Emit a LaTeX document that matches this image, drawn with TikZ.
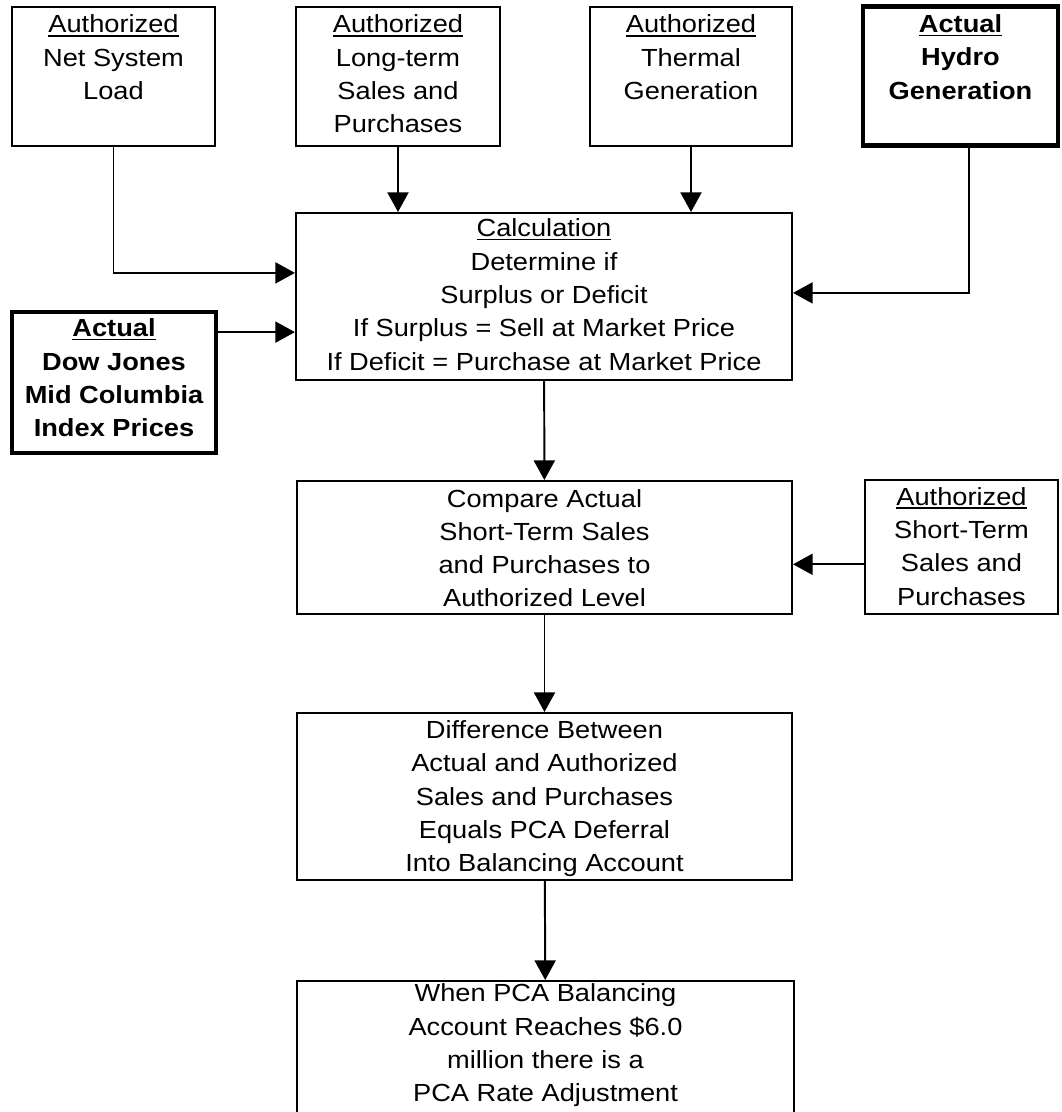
\documentclass[tikz,border=0pt]{standalone}
\usepackage{fontspec}
\setmainfont[FakeStretch=1.1]{Liberation Sans}
\usetikzlibrary{arrows.meta,calc}

\newcommand{\boxfont}{\fontsize{17.6pt}{23.7pt}\selectfont}
\newcommand{\undl}[1]{\setbox0\hbox{#1}\rlap{\rule[-2.6pt]{\wd0}{1pt}}\box0}

\tikzset{
  box/.style 2 args={draw, line width=1.4pt, align=center, inner xsep=2pt, inner ysep=0pt,
              text height=#1, text depth=#2},
  thickbox/.style 2 args={box={#1}{#2}, line width=3pt, font=\boxfont\bfseries},
  link/.style={line width=1.4pt, ->}
}

\begin{document}
\begin{tikzpicture}[x=0.025cm, y=-0.025cm, >={Triangle[length=14pt,width=15pt]},
  every node/.style={font=\boxfont}]
\useasboundingbox (0,0) rectangle (1061,1112);

%Inputs
\node[box={65.9pt}{33pt}, minimum width=5.075cm] (load) at (113.5,76.5) {\undl{Authorized}\\Net System\\Load};
\node[box={89.6pt}{9.3pt}, minimum width=5.1cm] (longterm) at (398,76.5) {\undl{Authorized}\\Long-term\\Sales and\\Purchases};
\node[box={65.9pt}{33pt}, minimum width=5.05cm] (thermal) at (691,76.5) {\undl{Authorized}\\Thermal\\Generation};
\node[thickbox={65.9pt}{33pt}, minimum width=4.875cm] (hydro) at (960.5,76) {\undl{Actual}\\Hydro\\Generation};
\node[thickbox={88.7pt}{11.6pt}, minimum width=5.1cm] (dow) at (114,382.5) {\undl{Actual}\\Dow Jones\\Mid Columbia\\Index Prices};
\node[box={88.9pt}{6.4pt}, minimum width=4.825cm] (short) at (961.5,547) {\undl{Authorized}\\Short-Term\\Sales and\\Purchases};

%Main column
\node[box={111.7pt}{7.1pt}, minimum width=12.4cm] (calc) at (544,296.5) {\undl{Calculation}\\Determine if\\Surplus or Deficit\\If Surplus = Sell at Market Price\\If Deficit = Purchase at Market Price};
\node[box={89.6pt}{5pt}, minimum width=12.375cm] (compare) at (544.5,547.5) {Compare Actual\\Short-Term Sales\\and Purchases to\\Authorized Level};
\node[box={112.9pt}{5.9pt}, minimum width=12.375cm] (diff) at (544.5,796.5) {Difference Between\\Actual and Authorized\\Sales and Purchases\\Equals PCA Deferral\\Into Balancing Account};
\node[box={86pt}{10pt}, minimum width=12.425cm] (pca) at (545.5,1048.5) {When PCA Balancing\\Account Reaches \$6.0\\million there is a\\PCA Rate Adjustment};

%Connectors
\coordinate (loadin) at ([yshift=0.59cm]calc.west);
\coordinate (dowin) at ([yshift=-0.89cm]calc.west);
\coordinate (hydroin) at ([yshift=0.09cm]calc.east);
\coordinate (shortin) at ([yshift=-0.42cm]compare.east);

\draw[link] (load.south) |- (loadin);
\draw[link] (longterm.south) -- (longterm.south |- calc.north);
\draw[link] (thermal.south) -- (thermal.south |- calc.north);
\draw[link] ([xshift=0.21cm]hydro.south) |- (hydroin);
\draw[link] (dow.east |- dowin) -- (dowin);
\draw[link] (short.west |- shortin) -- (shortin);
\draw[link] (calc) -- (compare);
\draw[link] (compare) -- (diff);
\draw[link] (diff) -- (pca);
\end{tikzpicture}
\end{document}
